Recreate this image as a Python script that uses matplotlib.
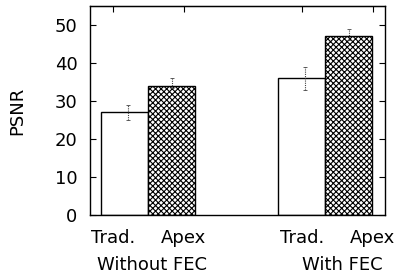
import matplotlib
matplotlib.use("Agg")
import matplotlib.pyplot as plt
import numpy as np

plt.rcParams['font.family'] = ['DejaVu Sans']
plt.rcParams['hatch.linewidth'] = 0.8

groups = ["Without FEC", "With FEC"]
methods = ["Trad.", "Apex"]
trad_vals = [27, 36]
apex_vals = [34, 47]
trad_err_lo = [25, 33]
trad_err_hi = [29, 39]
apex_err_lo = [33.5, 46]
apex_err_hi = [36, 49]
tick_pos = [-0.198, 0.203, 0.870, 1.271]
tick_labels = ["Trad.", "Apex", "Trad.", "Apex"]
yticks = [0, 10, 20, 30, 40, 50]

FS = 13
fig = plt.figure(figsize=(3.97, 2.77), dpi=100)
ax = fig.add_axes([90/397, 1-215/277, 295/397, 209/277])

centers = np.array([0.0, 1.0])
w = 0.2655
ax.bar(centers - w/2, trad_vals, width=w, color='white', edgecolor='black', linewidth=1.0, zorder=2)
ax.bar(centers + w/2, apex_vals, width=w, color='white', edgecolor='black', linewidth=1.0,
       hatch='xxxxxx', zorder=2)

tv = np.array(trad_vals); av = np.array(apex_vals)
for xs, v, lo, hi in [(centers - w/2 + 0.02, tv, trad_err_lo, trad_err_hi),
                      (centers + w/2 + 0.0, av, apex_err_lo, apex_err_hi)]:
    yerr = np.array([v - np.array(lo), np.array(hi) - v])
    eb = ax.errorbar(xs, v, yerr=yerr, fmt='none', ecolor='#444444', elinewidth=0.8,
                     capsize=1.5, capthick=0.6, zorder=3)
    for lc in eb[2]:
        lc.set_linestyle((0, (1, 1)))

ax.set_xlim(-0.328, 1.339)
ax.set_ylim(0, 55)
ax.set_yticks(yticks)
ax.set_xticks(tick_pos)
ax.set_xticklabels(tick_labels)
ax.tick_params(axis='y', direction='in', length=4, right=True, labelsize=FS, pad=9)
ax.tick_params(axis='x', direction='in', length=0, top=False, labelsize=FS, pad=10)
sec = ax.secondary_xaxis('top')
sec.set_xticks(tick_pos)
sec.tick_params(direction='in', length=4, labeltop=False)
sec.set_xticklabels([])
ax.set_ylabel("PSNR", fontsize=FS)
ax.yaxis.set_label_coords(-64/295, 0.5)
for s in ax.spines.values():
    s.set_linewidth(1.0)

ax.text(0.02, -0.239, groups[0], transform=ax.get_xaxis_transform(), ha='center', va='center', fontsize=FS)
ax.text(1.1, -0.239, groups[1], transform=ax.get_xaxis_transform(), ha='center', va='center', fontsize=FS)

fig.savefig("out.png", dpi=100)
